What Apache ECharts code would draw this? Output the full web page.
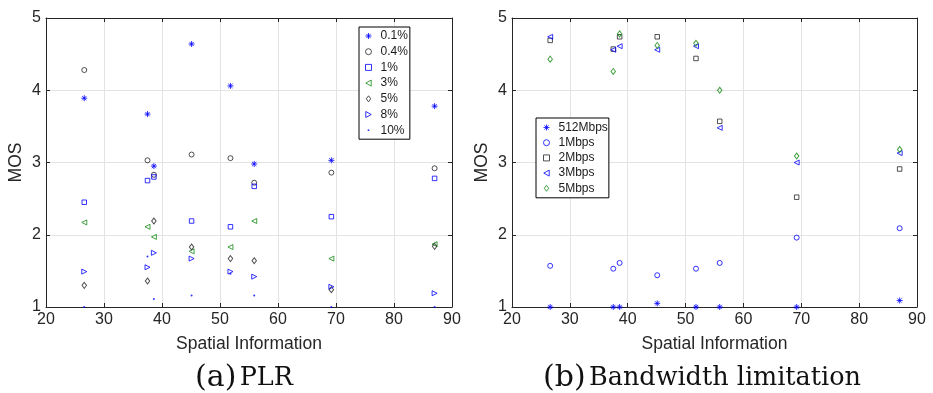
<!DOCTYPE html>
<html>
<head>
<meta charset="utf-8">
<script src="https://cdn.jsdelivr.net/npm/echarts@6/dist/echarts.min.js"></script>
<style>
html,body{margin:0;padding:0;background:#fff;}
#chart{width:933px;height:393px;}
</style>
</head>
<body>
<div id="chart"></div>
<script>
// ---- data ----
const xSI = [26.6, 37.5, 38.6, 45.1, 51.8, 55.9, 69.2, 87.0];
const xTicks = [20, 30, 40, 50, 60, 70, 80, 90];
const yTicks = [1, 2, 3, 4, 5];

const plrNames = ['0.1%', '0.4%', '1%', '3%', '5%', '8%', '10%'];
const plr01 = [3.89, 3.67, 2.95, 4.64, 4.06, 2.98, 3.03, 3.78];
const plr04 = [4.28, 3.03, 2.83, 3.11, 3.06, 2.72, 2.86, 2.92];
const plr1  = [2.45, 2.75, 2.80, 2.19, 2.11, 2.67, 2.25, 2.78];
const plr3  = [2.17, 2.11, 1.97, 1.77, 1.83, 2.19, 1.67, 1.87];
const plr5  = [1.30, 1.36, 2.19, 1.83, 1.67, 1.64, 1.24, 1.84];
const plr8  = [1.49, 1.55, 1.75, 1.67, 1.49, 1.42, 1.28, 1.19];
const plr10 = [1.00, 1.70, 1.11, 1.16, 1.46, 1.16, 1.00, 1.00];

const bwNames = ['512Mbps', '1Mbps', '2Mbps', '3Mbps', '5Mbps'];
const bw512 = [1.00, 1.00, 1.00, 1.05, 1.00, 1.00, 1.00, 1.09];
const bw1   = [1.57, 1.53, 1.61, 1.44, 1.53, 1.61, 1.96, 2.09];
const bw2   = [4.69, 4.57, 4.74, 4.74, 4.44, 3.57, 2.52, 2.91];
const bw3   = [4.74, 4.56, 4.61, 4.56, 4.61, 3.48, 3.00, 3.13];
const bw5   = [4.43, 4.26, 4.78, 4.62, 4.65, 4.00, 3.09, 3.18];

// ---- styles ----
const BLUE = '#0000ff', BLACK = '#262626', GREEN = '#138a13';
const AX = '#262626';
const SYM = {
  star: 'path://M0,-1L0,1M-1,0L1,0M-0.7,-0.7L0.7,0.7M-0.7,0.7L0.7,-0.7',
  circle: 'circle',
  square: 'path://M-1,-1L1,-1L1,1L-1,1Z',
  left: 'path://M-1,0L1,-1.1L1,1.1Z',
  right: 'path://M1,0L-1,-1.1L-1,1.1Z',
  diamond: 'path://M0,-1.35L1,0L0,1.35L-1,0Z',
  dot: 'circle'
};
const DOT_LEGEND = 'path://M-3,-3M3,3M-0.8,-0.8L0.8,-0.8L0.8,0.8L-0.8,0.8Z';

function pts(vals) { return xSI.map((x, i) => [x, vals[i]]); }

function mk(name, vals, sym, color, size, gi, filled) {
  return {
    name: name, type: 'scatter', xAxisIndex: gi * 2, yAxisIndex: gi * 2,
    data: pts(vals), symbol: SYM[sym], symbolSize: size, clip: false,
    itemStyle: filled ? { color: color, borderWidth: 0 }
                      : { color: 'rgba(0,0,0,0)', borderColor: color, borderWidth: 1 },
    emphasis: { disabled: true }, z: 3
  };
}

const series = [
  mk('0.1%', plr01, 'star', BLUE, 6, 0),
  mk('0.4%', plr04, 'circle', BLACK, 5, 0),
  mk('1%', plr1, 'square', BLUE, 4.5, 0),
  mk('3%', plr3, 'left', GREEN, 5, 0),
  mk('5%', plr5, 'diamond', BLACK, [4.5, 6], 0),
  mk('8%', plr8, 'right', BLUE, 5, 0),
  mk('10%', plr10, 'dot', BLUE, 2, 0, true),
  mk('512Mbps', bw512, 'star', BLUE, 6, 1),
  mk('1Mbps', bw1, 'circle', BLUE, 5, 1),
  mk('2Mbps', bw2, 'square', BLACK, 4.5, 1),
  mk('3Mbps', bw3, 'left', BLUE, 5, 1),
  mk('5Mbps', bw5, 'diamond', GREEN, [4.5, 6], 1)
];

const tickFont = { fontFamily: 'Liberation Sans', fontSize: 16, color: AX };
const nameFont = { fontFamily: 'Liberation Sans', fontSize: 17.5, color: AX };

function xAx(gi, top) {
  return {
    type: 'value', gridIndex: gi, position: top ? 'top' : 'bottom',
    min: xTicks[0], max: xTicks[xTicks.length - 1], interval: 10,
    name: top ? '' : 'Spatial Information', nameLocation: 'middle', nameGap: 28,
    nameTextStyle: nameFont,
    axisLine: { show: true, onZero: false, lineStyle: { color: AX, width: 1 } },
    axisTick: { show: true, inside: true, length: 4, lineStyle: { color: AX } },
    axisLabel: Object.assign({ show: !top, margin: 5 }, tickFont),
    splitLine: { show: !top, lineStyle: { color: '#e3e3e3', width: 1 } }
  };
}
function yAx(gi, right) {
  return {
    type: 'value', gridIndex: gi, position: right ? 'right' : 'left',
    min: yTicks[0], max: yTicks[yTicks.length - 1], interval: 1,
    name: right ? '' : 'MOS', nameLocation: 'middle', nameGap: 21, nameRotate: 90,
    nameTextStyle: nameFont,
    axisLine: { show: true, onZero: false, lineStyle: { color: AX, width: 1 } },
    axisTick: { show: true, inside: true, length: 4, lineStyle: { color: AX } },
    axisLabel: Object.assign({ show: !right, margin: 5 }, tickFont),
    splitLine: { show: !right, lineStyle: { color: '#e3e3e3', width: 1 } }
  };
}

function legend(items, left, top, gap, pad) {
  return {
    data: items, orient: 'vertical', left: left, top: top,
    selectedMode: false, itemWidth: 14, itemHeight: 6, itemGap: gap,
    padding: pad, borderColor: '#000', borderWidth: 1, backgroundColor: '#fff',
    symbolKeepAspect: true,
    itemStyle: { borderWidth: 1 },
    textStyle: { fontFamily: 'Liberation Sans', fontSize: 12, color: '#1a1a1a', lineHeight: 13 }
  };
}

const plrLegendItems = plrNames.map(n => n === '10%' ? { name: n, icon: DOT_LEGEND } : { name: n });

const option = {
  animation: false,
  backgroundColor: '#fff',
  grid: [
    { left: 46, top: 18, width: 406, height: 289, containLabel: false },
    { left: 512, top: 18, width: 405, height: 289, containLabel: false }
  ],
  xAxis: [xAx(0, false), xAx(0, true), xAx(1, false), xAx(1, true)],
  yAxis: [yAx(0, false), yAx(0, true), yAx(1, false), yAx(1, true)],
  legend: [
    legend(plrLegendItems, 359, 27, 2.7, [2.5, 2, 2.5, 6]),
    legend(bwNames, 536, 118, 2.2, [3, 1, 3, 7])
  ],
  graphic: [
    { type: 'text', x: 244, y: 378, style: {
        text: '{a|(a)} {b|PLR}', align: 'center', verticalAlign: 'middle',
        rich: { a: { fontFamily: 'DejaVu Serif', fontSize: 30, fill: '#111' },
                b: { fontFamily: 'DejaVu Serif', fontSize: 25.5, fill: '#111' } } } },
    { type: 'text', x: 702, y: 378, style: {
        text: '{a|(b)} {b|Bandwidth limitation}', align: 'center', verticalAlign: 'middle',
        rich: { a: { fontFamily: 'DejaVu Serif', fontSize: 30, fill: '#111' },
                b: { fontFamily: 'DejaVu Serif', fontSize: 25.5, fill: '#111' } } } }
  ],
  series: series
};

const chart = echarts.init(document.getElementById('chart'), null, { renderer: 'canvas' });
chart.setOption(option);
</script>
</body>
</html>
